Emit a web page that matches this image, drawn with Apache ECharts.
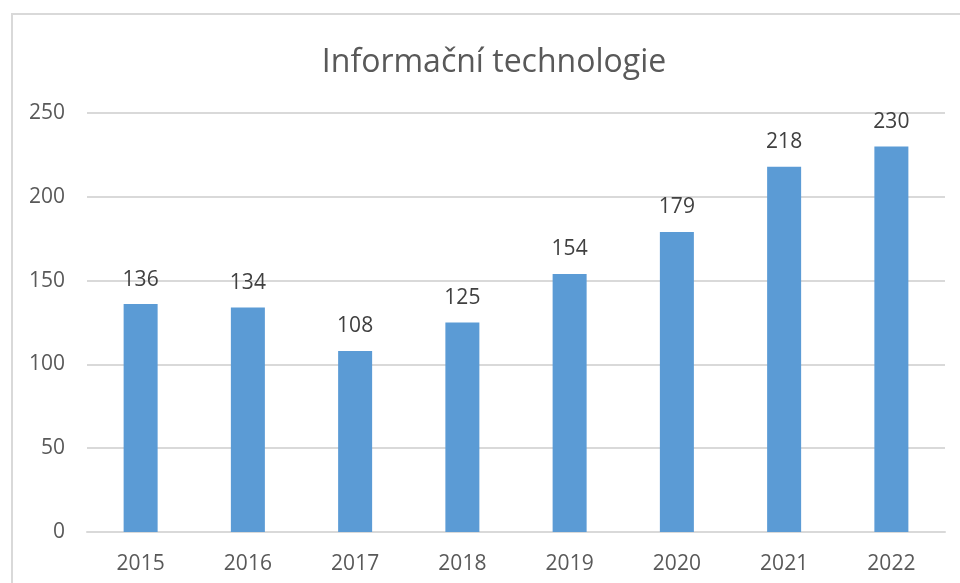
<!DOCTYPE html>
<html>
<head>
<meta charset="utf-8">
<script src="https://cdn.jsdelivr.net/npm/echarts@6/dist/echarts.min.js"></script>
<style>
  html, body { margin: 0; padding: 0; background: #fff; }
  #frame {
    position: absolute; left: 11px; top: 13px; width: 1000px; height: 620px;
    border: 2px solid #d9d9d9; box-sizing: border-box;
  }
  #chart { position: absolute; left: 0; top: 0; width: 960px; height: 583px; }
</style>
</head>
<body>
<div id="frame"></div>
<div id="chart"></div>
<script>
// data
var years = ["2015", "2016", "2017", "2018", "2019", "2020", "2021", "2022"];
var values = [136, 134, 108, 125, 154, 179, 218, 230];
var yTicks = [0, 50, 100, 150, 200, 250];

var font = "'Open Sans', 'Noto Sans', sans-serif";
var chart = echarts.init(document.getElementById("chart"));

chart.setOption({
  animation: false,
  title: {
    text: "Informační technologie",
    left: 489,
    top: 42,
    textAlign: "center",
    textStyle: { fontFamily: font, fontSize: 32, fontWeight: "normal", color: "#595959" }
  },
  grid: { left: 87, right: 15, top: 113, bottom: 51 },
  xAxis: {
    type: "category",
    data: years,
    axisLine: { lineStyle: { color: "#d9d9d9", width: 2 } },
    axisTick: { show: false },
    axisLabel: { fontFamily: font, fontSize: 21, color: "#595959", margin: 22 }
  },
  yAxis: {
    type: "value",
    min: yTicks[0],
    max: yTicks[yTicks.length - 1],
    interval: 50,
    axisLine: { show: false },
    axisTick: { show: false },
    splitLine: { lineStyle: { color: "#d9d9d9", width: 2 } },
    axisLabel: { fontFamily: font, fontSize: 21, color: "#595959", margin: 22 }
  },
  series: [{
    type: "bar",
    data: values,
    barWidth: 34,
    itemStyle: { color: "#5b9bd5" },
    label: {
      show: true,
      position: "top",
      distance: 14,
      fontFamily: font,
      fontSize: 21,
      color: "#404040"
    }
  }]
});
</script>
</body>
</html>
